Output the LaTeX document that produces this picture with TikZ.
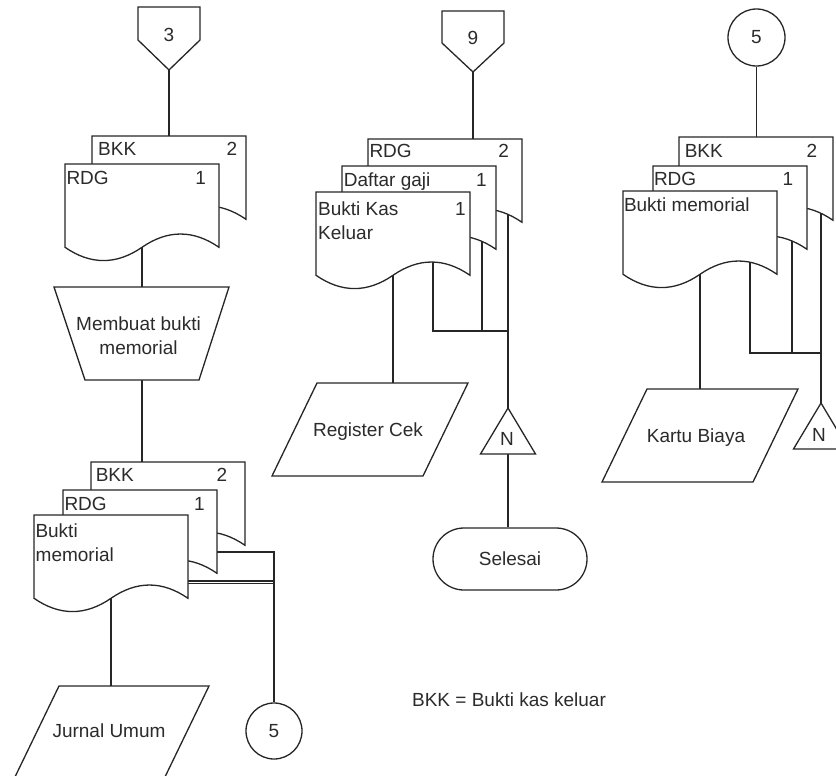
\documentclass[tikz,border=0pt]{standalone}
\usepackage{fontspec}
\setmainfont{Liberation Sans}
\usetikzlibrary{shapes.misc,backgrounds}
\definecolor{ln}{HTML}{262626}
\definecolor{tx}{HTML}{2B2B2B}
\tikzset{
  shp/.style={draw=ln, fill=white, line width=1.3pt},
  conn/.style={draw=ln, line width=1.3pt},
  lbl/.style={text=tx, inner sep=0pt, font=\fontsize{19}{24.3}\selectfont},
  ghost/.style={draw=none, inner sep=0pt, outer sep=0pt},
  txtshape/.style={shp, inner sep=0pt, text=tx, font=\fontsize{19}{24.3}\selectfont},
}
\newcommand\docpage[3]{%
  \begin{scope}[shift={(#2,#3)}]
    \node[ghost, minimum width=154pt, minimum height=98pt, anchor=north west] (#1) at (0,0) {};
    \path[shp] (0,0) -- (154,0) -- (154,83.3) .. controls (128.3,65.6) and (102.7,65.6) .. (77,83.3) .. controls (51.3,101) and (25.7,101) .. (0,83.3) -- cycle;
  \end{scope}}
\begin{document}
\begin{tikzpicture}[x=1pt,y=-1pt]
\useasboundingbox (0,0) rectangle (836,776);

% ---------- left column ----------
\node[ghost, minimum width=62pt, minimum height=63pt, anchor=north] (off3) at (169,7) {};
\path[shp] (138,7) -- (200,7) -- (200,40) -- (169,70) -- (138,40) -- cycle;
\node[lbl, anchor=base] (off3-t) at (169,41.7) {3};

\docpage{lt2}{92}{136}
\node[lbl, anchor=base west] (lt2-a) at (98,155) {BKK};
\node[lbl, anchor=base] (lt2-b) at (232,155) {2};
\docpage{lt1}{65}{164}
\node[lbl, anchor=base west] (lt1-a) at (66.3,184.3) {RDG};
\node[lbl, anchor=base] (lt1-b) at (200.7,184.3) {1};

\node[ghost, minimum width=174pt, minimum height=93pt] (mop) at (142,333.5) {};
\path[shp] (54,287) -- (229,287) -- (199,380) -- (85,380) -- cycle;
\node[lbl, anchor=base] (mop-a) at (138.5,330) {Membuat bukti};
\node[lbl, anchor=base] (mop-b) at (138.5,354) {memorial};

\docpage{lb3}{91}{462}
\node[lbl, anchor=base west] (lb3-a) at (95.6,481.7) {BKK};
\node[lbl, anchor=base] (lb3-b) at (222,481.7) {2};
\docpage{lb2}{63}{490}
\node[lbl, anchor=base west] (lb2-a) at (64.3,510) {RDG};
\node[lbl, anchor=base] (lb2-b) at (199.5,510) {1};
\docpage{lb1}{34}{515}
\node[lbl, anchor=base west] (lb1-a) at (35.3,537.3) {Bukti};
\node[lbl, anchor=base west] (lb1-b) at (35.5,561) {memorial};

\node[ghost, minimum width=150pt, minimum height=93pt] (jur) at (111,732.5) {};
\path[shp] (59,686) -- (209,686) -- (164,779) -- (14,779) -- cycle;
\node[lbl, anchor=base] (jur-t) at (109,737.3) {Jurnal Umum};

\node[txtshape, circle, minimum size=56pt] (c5) at (274,731) {5};

\node[lbl, anchor=base] (legend) at (509,706.7) {BKK = Bukti kas keluar};

% ---------- middle column ----------
\node[ghost, minimum width=62pt, minimum height=61pt, anchor=north] (off9) at (473,11) {};
\path[shp] (442,11) -- (504,11) -- (504,43) -- (473,72) -- (442,43) -- cycle;
\node[lbl, anchor=base] (off9-t) at (473,45) {9};

\docpage{mm3}{368}{139}
\node[lbl, anchor=base west] (mm3-a) at (369.3,157.7) {RDG};
\node[lbl, anchor=base] (mm3-b) at (503.7,157.7) {2};
\docpage{mm2}{342}{166}
\node[lbl, anchor=base west] (mm2-a) at (343.6,186) {Daftar gaji};
\node[lbl, anchor=base] (mm2-b) at (481.4,186) {1};
\docpage{mm1}{316}{192}
\node[lbl, anchor=base west] (mm1-a) at (318,215) {Bukti Kas};
\node[lbl, anchor=base west] (mm1-c) at (318,239.3) {Keluar};
\node[lbl, anchor=base] (mm1-b) at (460.4,215) {1};

\node[ghost, minimum width=151pt, minimum height=93pt] (reg) at (393,429.5) {};
\path[shp] (317,383) -- (468,383) -- (423,476) -- (272,476) -- cycle;
\node[lbl, anchor=base] (reg-t) at (368,436) {Register Cek};

\node[ghost, minimum width=55pt, minimum height=46pt] (ntri1) at (508,431) {};
\path[shp] (ntri1.north) -- (ntri1.south east) -- (ntri1.south west) -- cycle;
\node[lbl, anchor=base] (ntri1-t) at (507,445) {N};

\node[txtshape, rounded rectangle, minimum width=154pt, minimum height=62pt] (sel) at (510,559) {Selesai};

% ---------- right column ----------
\node[txtshape, circle, minimum size=57pt] (c5t) at (756.5,37.5) {5};

\docpage{rr3}{679}{137}
\node[lbl, anchor=base west] (rr3-a) at (684.6,157.7) {BKK};
\node[lbl, anchor=base] (rr3-b) at (812,157.7) {2};
\docpage{rr2}{653}{166}
\node[lbl, anchor=base west] (rr2-a) at (653.8,185.7) {RDG};
\node[lbl, anchor=base] (rr2-b) at (788,185.7) {1};
\docpage{rr1}{623}{191}
\node[lbl, anchor=base west] (rr1-a) at (623.8,211) {Bukti memorial};

\node[ghost, minimum width=151pt, minimum height=93pt] (kartu) at (700,435.5) {};
\path[shp] (647,389) -- (798,389) -- (753,482) -- (602,482) -- cycle;
\node[lbl, anchor=base] (kartu-t) at (696,442) {Kartu Biaya};

\node[ghost, minimum width=55pt, minimum height=46pt] (ntri2) at (821,426) {};
\path[shp] (ntri2.north) -- (ntri2.south east) -- (ntri2.south west) -- cycle;
\node[lbl, anchor=base] (ntri2-t) at (819,441.7) {N};

% ---------- junction points ----------
\coordinate (lj1) at (274,552);
\coordinate (lj2) at (274,581);
\coordinate (lj3) at (274,583.5);
\coordinate (mjA) at (433,331);
\coordinate (mjB) at (482,331);
\coordinate (mjC) at (508,331);
\coordinate (rjA) at (750,353);
\coordinate (rjB) at (792,353);
\coordinate (rjC) at (821,353);

% ---------- connectors ----------
\begin{pgfonlayer}{background}
\draw[conn] (off3.south) -- (lt2.north);
\draw[conn] (lt1.center) -- (lt1.center |- mop.north);
\draw[conn] (mop.south) -- (mop.south |- lb3.north);
\draw[conn] (lb1.center) -- (lb1.center |- jur.north);
\draw[conn] (lb3.center |- lj1) -- (lj1) -- (c5.north);
\draw[conn] (lb1.center |- lj2) -- (lj2);
\draw[conn] (lb2.center |- lj3) -- (lj3);

\draw[conn] (off9.south) -- (off9.south |- mm3.north);
\draw[conn] (mm1.center) -- (mm1.center |- reg.north);
\draw[conn] (mm1.center -| mjA) -- (mjA) -- (mjC);
\draw[conn] (mm2.center -| mjB) -- (mjB);
\draw[conn] (mm3.center -| mjC) -- (ntri1.north);
\draw[conn] (ntri1.south) -- (ntri1.south |- sel.north);

\draw[conn] (c5t.south) -- (c5t.south |- rr3.north);
\draw[conn] (rr1.center) -- (rr1.center |- kartu.north);
\draw[conn] (rr1.center -| rjA) -- (rjA) -- (rjC);
\draw[conn] (rr2.center -| rjB) -- (rjB);
\draw[conn] (rr3.center -| rjC) -- (ntri2.north);
\end{pgfonlayer}
\end{tikzpicture}
\end{document}
